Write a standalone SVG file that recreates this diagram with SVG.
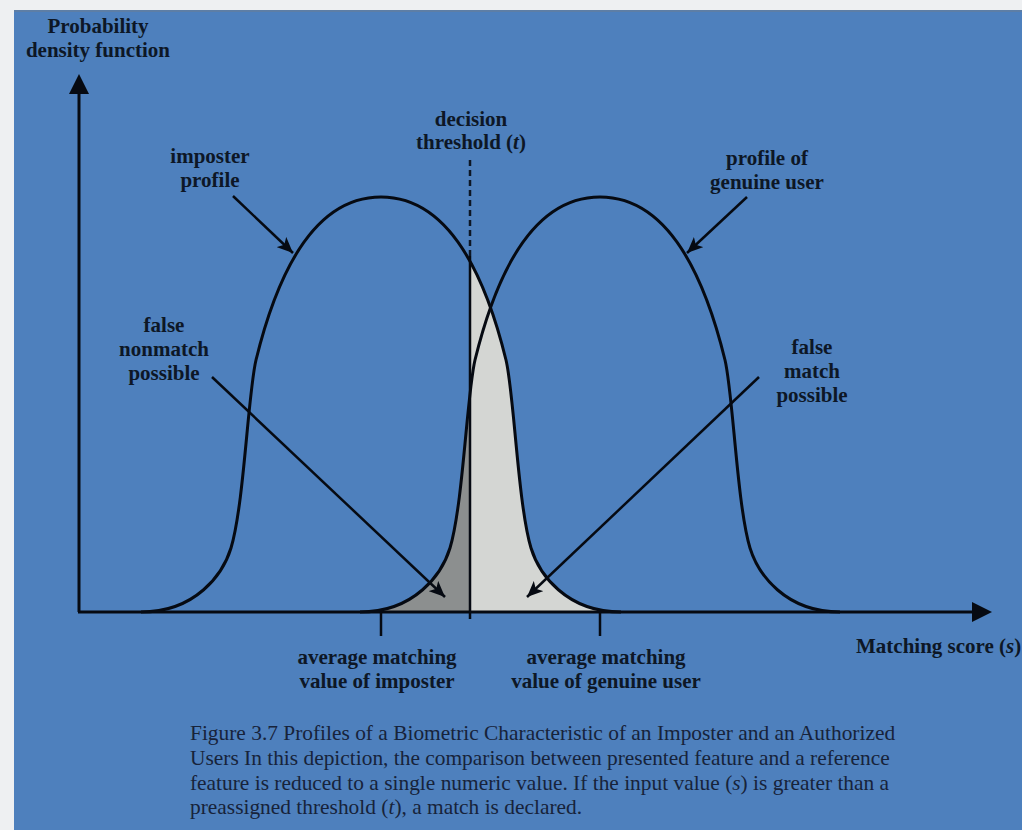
<svg xmlns="http://www.w3.org/2000/svg" xmlns:xlink="http://www.w3.org/1999/xlink" width="1022" height="830" viewBox="0 0 1022 830">
  <style>
    .lbl { font-family: "Liberation Serif", "Times New Roman", serif; font-weight: bold; font-size: 21px; fill: #0d1726; text-anchor: middle; }
    .cap { font-family: "Liberation Serif", "Times New Roman", serif; font-size: 21.4px; fill: #17233a; }
    .ink { fill: none; stroke: #060a12; stroke-width: 3; }
    .pointer { fill: none; stroke: #060a12; stroke-width: 2.5; marker-end: url(#pointer-head); }
    .tick { stroke: #060a12; stroke-width: 2.5; }
  </style>
  <defs>
    <marker id="pointer-head" markerUnits="userSpaceOnUse" markerWidth="18" markerHeight="14" refX="16" refY="7" orient="auto">
      <path d="M0,0 L16,7 L0,14 L4,7 Z" fill="#060a12"/>
    </marker>
    <marker id="axis-head" markerUnits="userSpaceOnUse" markerWidth="22" markerHeight="22" refX="2" refY="11" orient="auto">
      <path d="M0,1 L20,11 L0,21 Z" fill="#060a12"/>
    </marker>
    <clipPath id="left-of-t"><rect x="0" y="0" width="470" height="612"/></clipPath>
    <clipPath id="right-of-t"><rect x="470" y="0" width="552" height="612"/></clipPath>
    <path id="imposter-curve" d="M141,612 C196,612 223,574 231,548 C244,505 248,393 256,360 C281,258 321,197 381,197 C441,197 481,258 506,360 C514,393 518,505 531,548 C539,574 566,612 621,612"/>
    <path id="genuine-curve" d="M360,612 C415,612 442,574 450,548 C463,505 467,393 475,360 C500,258 540,197 600,197 C660,197 700,258 725,360 C733,393 737,505 750,548 C758,574 785,612 840,612"/>
  </defs>

  <!-- page and panel -->
  <rect x="0" y="0" width="1022" height="830" fill="#eef0f2"/>
  <rect x="14" y="10" width="1008" height="820" fill="#4e80bd"/>
  <rect x="14" y="10" width="1008" height="2" fill="#5d7ea6"/>

  <!-- error regions either side of the threshold -->
  <g id="false-nonmatch-area">
    <use xlink:href="#genuine-curve" fill="#8c8f8f" clip-path="url(#left-of-t)"/>
  </g>
  <g id="false-match-area">
    <use xlink:href="#imposter-curve" fill="#d4d6d3" clip-path="url(#right-of-t)"/>
  </g>

  <!-- distributions -->
  <g id="imposter-profile">
    <use xlink:href="#imposter-curve" class="ink"/>
  </g>
  <g id="genuine-profile">
    <use xlink:href="#genuine-curve" class="ink"/>
  </g>

  <!-- decision threshold -->
  <g id="threshold">
    <line x1="470" y1="160" x2="470" y2="256" stroke="#0d1726" stroke-width="2.5" stroke-dasharray="6 4"/>
    <line x1="470" y1="256" x2="470" y2="619" stroke="#060a12" stroke-width="2.5"/>
  </g>

  <!-- axes -->
  <g id="axes">
    <path d="M79,612 L79,92" class="ink" marker-end="url(#axis-head)"/>
    <path d="M78,612 L974,612" class="ink" marker-end="url(#axis-head)"/>
    <line x1="381" y1="612" x2="381" y2="636" class="tick"/>
    <line x1="600" y1="612" x2="600" y2="636" class="tick"/>
  </g>

  <!-- labels -->
  <g id="y-axis-label">
    <text class="lbl" x="98" y="33">Probability</text>
    <text class="lbl" x="98" y="57">density function</text>
  </g>
  <g id="x-axis-label">
    <text class="lbl" x="856" y="653" style="text-anchor:start">Matching score (<tspan font-style="italic">s</tspan>)</text>
  </g>
  <g id="threshold-label">
    <text class="lbl" x="471" y="126">decision</text>
    <text class="lbl" x="471" y="149">threshold (<tspan font-style="italic">t</tspan>)</text>
  </g>
  <g id="imposter-label">
    <text class="lbl" x="210" y="163">imposter</text>
    <text class="lbl" x="210" y="187">profile</text>
  </g>
  <g id="genuine-label">
    <text class="lbl" x="767" y="165">profile of</text>
    <text class="lbl" x="767" y="189">genuine user</text>
  </g>
  <g id="false-nonmatch-label">
    <text class="lbl" x="164" y="332">false</text>
    <text class="lbl" x="164" y="356">nonmatch</text>
    <text class="lbl" x="164" y="380">possible</text>
  </g>
  <g id="false-match-label">
    <text class="lbl" x="812" y="354">false</text>
    <text class="lbl" x="812" y="378">match</text>
    <text class="lbl" x="812" y="402">possible</text>
  </g>
  <g id="imposter-mean-label">
    <text class="lbl" x="377" y="664">average matching</text>
    <text class="lbl" x="377" y="688">value of imposter</text>
  </g>
  <g id="genuine-mean-label">
    <text class="lbl" x="606" y="664">average matching</text>
    <text class="lbl" x="606" y="688">value of genuine user</text>
  </g>

  <!-- pointer arrows from labels -->
  <g id="connectors">
    <line class="pointer" x1="233" y1="196" x2="293" y2="253"/>
    <line class="pointer" x1="747" y1="197" x2="687" y2="253"/>
    <line class="pointer" x1="212" y1="377" x2="445" y2="597"/>
    <line class="pointer" x1="759" y1="377" x2="527" y2="597"/>
  </g>

  <!-- caption -->
  <g id="caption">
    <text class="cap" x="190" y="740">Figure 3.7 Profiles of a Biometric Characteristic of an Imposter and an Authorized</text>
    <text class="cap" x="190" y="765">Users In this depiction, the comparison between presented feature and a reference</text>
    <text class="cap" x="190" y="790">feature is reduced to a single numeric value. If the input value (<tspan font-style="italic">s</tspan>) is greater than a</text>
    <text class="cap" x="190" y="814">preassigned threshold (<tspan font-style="italic">t</tspan>), a match is declared.</text>
  </g>
</svg>
